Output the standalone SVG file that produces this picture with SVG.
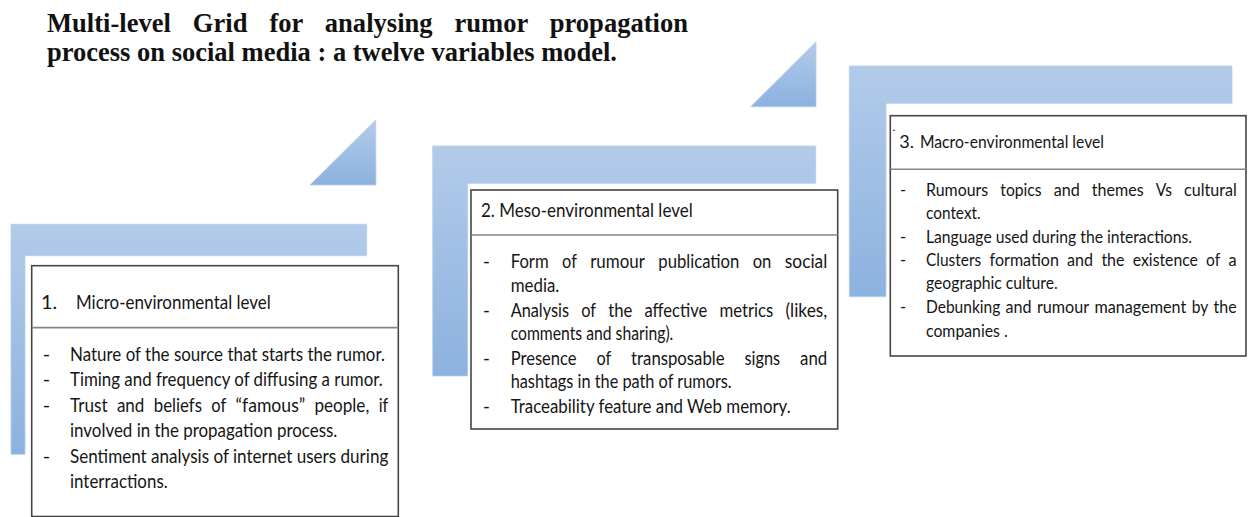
<svg xmlns="http://www.w3.org/2000/svg" width="1248" height="517" viewBox="0 0 1248 517">
<style>
.bar{fill:url(#g);stroke:#b7cdea;stroke-width:0.8}
.box{fill:#fff;stroke:#454545;stroke-width:1.6}
.div{stroke:#858585;stroke-width:1.6}
.ttl{font-family:"Liberation Serif","Times New Roman",serif;font-weight:bold;font-size:26.5px;fill:#111}
.t1{font-family:Lato,"Open Sans",sans-serif;font-size:20px;fill:#151515}
.t2{font-family:Lato,"Open Sans",sans-serif;font-size:18.5px;fill:#151515}
.t3{font-family:Lato,"Open Sans",sans-serif;font-size:16.5px;fill:#151515}
.h3{font-family:Lato,"Open Sans",sans-serif;font-size:18px;fill:#151515}
</style>
<defs>
<linearGradient id="g" x1="0" y1="0" x2="0" y2="1">
<stop offset="0" stop-color="#b3cbe9"/>
<stop offset="1" stop-color="#8cb2df"/>
</linearGradient>
</defs>
<g id="title">
<text class="ttl" x="47" y="32" textLength="641" lengthAdjust="spacingAndGlyphs" style="word-spacing:15.3px">Multi-level Grid for analysing rumor propagation</text>
<text class="ttl" x="47" y="60.5" textLength="570" lengthAdjust="spacingAndGlyphs">process on social media : a twelve variables model.</text>
</g>
<g id="decor">
<polygon class="bar" points="11,224.3 366.7,224.3 366.7,255.7 25,255.7 25,454.3 11,454.3"/>
<polygon class="bar" points="432.7,146 815.7,146 815.7,183.3 467.7,183.3 467.7,376 432.7,376"/>
<polygon class="bar" points="849.3,66 1232,66 1232,103.3 886,103.3 886,296.7 849.3,296.7"/>
<polygon class="bar" points="375.7,120 310,185 376,185"/>
<polygon class="bar" points="816,41.7 750.7,106.7 816,106.7"/>
</g>
<g id="connectors"></g>
<g id="micro">
<rect class="box" x="31.7" y="265.7" width="366.6" height="250.8"/>
<line class="div" x1="31.7" y1="327.6" x2="398.3" y2="327.6"/>
<text class="t1" x="41" y="309.3">1.</text>
<text class="t1" x="76" y="309.3" textLength="194.7" lengthAdjust="spacingAndGlyphs">Micro-environmental level</text>
<text class="t1" x="42.7" y="360.7">-</text>
<text class="t1" x="42.7" y="386">-</text>
<text class="t1" x="42.7" y="411.7">-</text>
<text class="t1" x="42.7" y="462.7">-</text>
<text class="t1" x="70" y="360.7" textLength="315" lengthAdjust="spacingAndGlyphs">Nature of the source that starts the rumor.</text>
<text class="t1" x="70" y="386" textLength="312.7" lengthAdjust="spacingAndGlyphs">Timing and frequency of diffusing a rumor.</text>
<g>
<text class="t1" x="70" y="411.7" textLength="37.6" lengthAdjust="spacingAndGlyphs">Trust</text>
<text class="t1" x="116.9" y="411.7" textLength="27.5" lengthAdjust="spacingAndGlyphs">and</text>
<text class="t1" x="153.8" y="411.7" textLength="48.2" lengthAdjust="spacingAndGlyphs">beliefs</text>
<text class="t1" x="211.3" y="411.7" textLength="15" lengthAdjust="spacingAndGlyphs">of</text>
<text class="t1" x="235.6" y="411.7" textLength="69.5" lengthAdjust="spacingAndGlyphs">“famous”</text>
<text class="t1" x="314.4" y="411.7" textLength="54.9" lengthAdjust="spacingAndGlyphs">people,</text>
<text class="t1" x="378.7" y="411.7" textLength="9.6" lengthAdjust="spacingAndGlyphs">if</text>
</g>
<text class="t1" x="70" y="437.3" textLength="267.3" lengthAdjust="spacingAndGlyphs">involved in the propagation process.</text>
<text class="t1" x="70" y="462.7" textLength="318.3" lengthAdjust="spacingAndGlyphs">Sentiment analysis of internet users during</text>
<text class="t1" x="70" y="488.3" textLength="97.7" lengthAdjust="spacingAndGlyphs">interractions.</text>
</g>
<g id="meso">
<rect class="box" x="471" y="190" width="366.7" height="239"/>
<line class="div" x1="471" y1="235" x2="837.7" y2="235"/>
<text class="t2" x="481" y="216.7" textLength="211.7" lengthAdjust="spacingAndGlyphs">2. Meso-environmental level</text>
<text class="t2" x="483" y="268">-</text>
<text class="t2" x="483" y="316.7">-</text>
<text class="t2" x="483" y="365">-</text>
<text class="t2" x="483" y="413">-</text>
<g>
<text class="t2" x="510.7" y="268" textLength="38" lengthAdjust="spacingAndGlyphs">Form</text>
<text class="t2" x="562.1" y="268" textLength="14.8" lengthAdjust="spacingAndGlyphs">of</text>
<text class="t2" x="590.2" y="268" textLength="54.7" lengthAdjust="spacingAndGlyphs">rumour</text>
<text class="t2" x="658.3" y="268" textLength="81" lengthAdjust="spacingAndGlyphs">publication</text>
<text class="t2" x="752.7" y="268" textLength="18.7" lengthAdjust="spacingAndGlyphs">on</text>
<text class="t2" x="784.8" y="268" textLength="42.5" lengthAdjust="spacingAndGlyphs">social</text>
</g>
<text class="t2" x="510.7" y="291.7" textLength="48.6" lengthAdjust="spacingAndGlyphs">media.</text>
<g>
<text class="t2" x="510.7" y="316.7" textLength="58.3" lengthAdjust="spacingAndGlyphs">Analysis</text>
<text class="t2" x="581.2" y="316.7" textLength="14.8" lengthAdjust="spacingAndGlyphs">of</text>
<text class="t2" x="608.2" y="316.7" textLength="24.2" lengthAdjust="spacingAndGlyphs">the</text>
<text class="t2" x="644.5" y="316.7" textLength="62.7" lengthAdjust="spacingAndGlyphs">affective</text>
<text class="t2" x="719.4" y="316.7" textLength="53.8" lengthAdjust="spacingAndGlyphs">metrics</text>
<text class="t2" x="785.4" y="316.7" textLength="41.9" lengthAdjust="spacingAndGlyphs">(likes,</text>
</g>
<text class="t2" x="510.7" y="340" textLength="162.6" lengthAdjust="spacingAndGlyphs">comments and sharing).</text>
<g>
<text class="t2" x="510.7" y="365" textLength="65.8" lengthAdjust="spacingAndGlyphs">Presence</text>
<text class="t2" x="596.4" y="365" textLength="14.8" lengthAdjust="spacingAndGlyphs">of</text>
<text class="t2" x="631.1" y="365" textLength="93.5" lengthAdjust="spacingAndGlyphs">transposable</text>
<text class="t2" x="744.5" y="365" textLength="35.7" lengthAdjust="spacingAndGlyphs">signs</text>
<text class="t2" x="800.1" y="365" textLength="27.2" lengthAdjust="spacingAndGlyphs">and</text>
</g>
<text class="t2" x="510.7" y="388" textLength="221" lengthAdjust="spacingAndGlyphs">hashtags in the path of rumors.</text>
<text class="t2" x="510.7" y="413" textLength="280" lengthAdjust="spacingAndGlyphs">Traceability feature and Web memory.</text>
</g>
<g id="macro">
<rect class="box" x="890.3" y="115.7" width="355.7" height="240.3"/>
<line class="div" x1="890.3" y1="169.3" x2="1246" y2="169.3"/>
<text class="h3" x="892.5" y="131" style="font-size:12px">.</text>
<text class="h3" x="899.3" y="148.3">3.</text>
<text class="h3" x="920" y="148.3" textLength="184" lengthAdjust="spacingAndGlyphs">Macro-environmental level</text>
<text class="t3" x="900" y="196">-</text>
<text class="t3" x="900" y="242.7">-</text>
<text class="t3" x="900" y="266">-</text>
<text class="t3" x="900" y="313.3">-</text>
<g>
<text class="t3" x="926" y="196" textLength="62.2" lengthAdjust="spacingAndGlyphs">Rumours</text>
<text class="t3" x="1000.3" y="196" textLength="41.3" lengthAdjust="spacingAndGlyphs">topics</text>
<text class="t3" x="1053.7" y="196" textLength="26" lengthAdjust="spacingAndGlyphs">and</text>
<text class="t3" x="1091.8" y="196" textLength="51.8" lengthAdjust="spacingAndGlyphs">themes</text>
<text class="t3" x="1155.7" y="196" textLength="16.3" lengthAdjust="spacingAndGlyphs">Vs</text>
<text class="t3" x="1184.1" y="196" textLength="52.6" lengthAdjust="spacingAndGlyphs">cultural</text>
</g>
<text class="t3" x="926" y="219.3" textLength="54.7" lengthAdjust="spacingAndGlyphs">context.</text>
<text class="t3" x="926" y="242.7" textLength="266" lengthAdjust="spacingAndGlyphs">Language used during the interactions.</text>
<g>
<text class="t3" x="926" y="266" textLength="55.3" lengthAdjust="spacingAndGlyphs">Clusters</text>
<text class="t3" x="989.6" y="266" textLength="69.3" lengthAdjust="spacingAndGlyphs">formation</text>
<text class="t3" x="1067.1" y="266" textLength="26" lengthAdjust="spacingAndGlyphs">and</text>
<text class="t3" x="1101.4" y="266" textLength="23.1" lengthAdjust="spacingAndGlyphs">the</text>
<text class="t3" x="1132.8" y="266" textLength="65.1" lengthAdjust="spacingAndGlyphs">existence</text>
<text class="t3" x="1206.1" y="266" textLength="14.1" lengthAdjust="spacingAndGlyphs">of</text>
<text class="t3" x="1228.6" y="266" textLength="8.1" lengthAdjust="spacingAndGlyphs">a</text>
</g>
<text class="t3" x="926" y="289.3" textLength="131.7" lengthAdjust="spacingAndGlyphs">geographic culture.</text>
<g>
<text class="t3" x="926" y="313.3" textLength="74.3" lengthAdjust="spacingAndGlyphs">Debunking</text>
<text class="t3" x="1005.6" y="313.3" textLength="26" lengthAdjust="spacingAndGlyphs">and</text>
<text class="t3" x="1036.9" y="313.3" textLength="52.3" lengthAdjust="spacingAndGlyphs">rumour</text>
<text class="t3" x="1094.4" y="313.3" textLength="91.9" lengthAdjust="spacingAndGlyphs">management</text>
<text class="t3" x="1191.7" y="313.3" textLength="16.6" lengthAdjust="spacingAndGlyphs">by</text>
<text class="t3" x="1213.6" y="313.3" textLength="23.1" lengthAdjust="spacingAndGlyphs">the</text>
</g>
<text class="t3" x="926" y="336.7" textLength="81.7" lengthAdjust="spacingAndGlyphs">companies .</text>
</g>
</svg>
